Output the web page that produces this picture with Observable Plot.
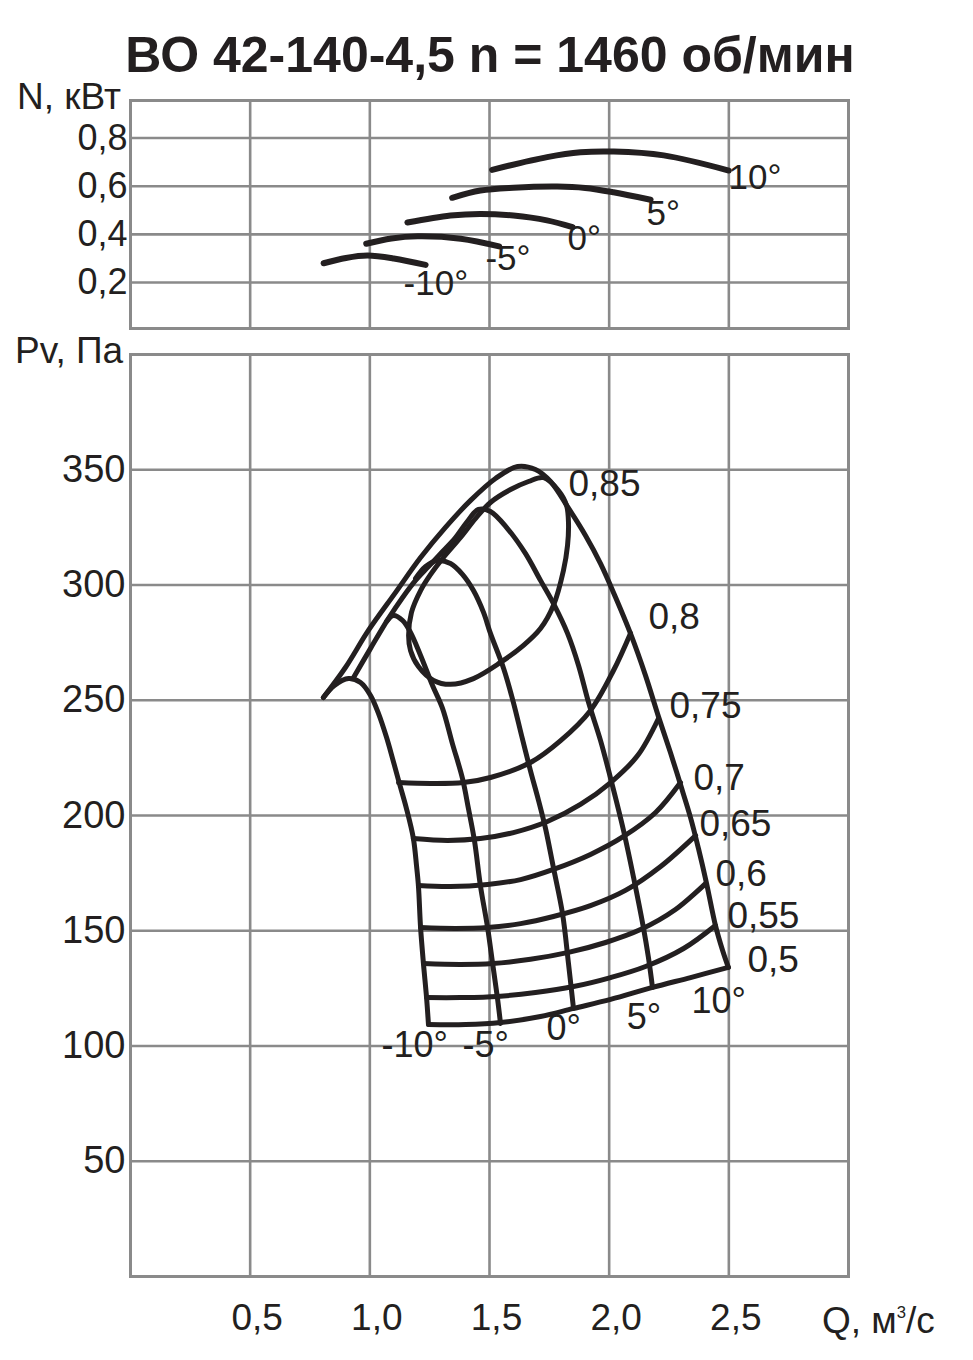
<!DOCTYPE html>
<html><head><meta charset="utf-8">
<script src="https://cdn.jsdelivr.net/npm/d3@7"></script>
<script src="https://cdn.jsdelivr.net/npm/@observablehq/plot@0.6"></script>
<style>
body{margin:0;background:#fff;width:973px;height:1360px;position:relative;overflow:hidden;font-family:"Liberation Sans",Arial,sans-serif;color:#231f20;}
.abs{position:absolute;white-space:nowrap;line-height:1;}
#title{left:0;width:980px;top:30px;text-align:center;font-weight:bold;font-size:50px;}
sup{font-size:0.45em;vertical-align:0.9em;}
</style></head><body>
<div id="title" class="abs">ВО 42-140-4,5 n = 1460 об/мин</div>
<div class="abs" style="left:17px;top:78px;font-size:37px">N, кВт</div>
<div class="abs" style="left:15px;top:332px;font-size:37px">Pv, Па</div>
<div class="abs" style="left:822px;top:1302px;font-size:37px">Q, м<sup>3</sup>/с</div>
<div id="top" class="abs" style="left:0;top:90px"></div>
<div id="bot" class="abs" style="left:0;top:344px"></div>
<script>
// ---- axis ticks ----
const xTicks = [0.5, 1, 1.5, 2, 2.5];
const nTicks = [0.2, 0.4, 0.6, 0.8];
const pTicks = [50, 100, 150, 200, 250, 300, 350];

// ---- power curves N(Q), kW ----
const nQ_m10 = [0.807, 0.90, 0.99, 1.10, 1.233];
const nN_m10 = [0.280, 0.302, 0.312, 0.300, 0.273];
const nQ_m5 = [0.985, 1.09, 1.20, 1.38, 1.54];
const nN_m5 = [0.361, 0.383, 0.392, 0.382, 0.350];
const nQ_0 = [1.157, 1.337, 1.46, 1.60, 1.74, 1.847];
const nN_0 = [0.449, 0.478, 0.485, 0.478, 0.458, 0.430];
const nQ_5 = [1.344, 1.462, 1.60, 1.783, 1.90, 2.018, 2.173];
const nN_5 = [0.552, 0.582, 0.594, 0.599, 0.593, 0.575, 0.544];
const nQ_10 = [1.511, 1.741, 1.88, 2.019, 2.228, 2.50];
const nN_10 = [0.668, 0.721, 0.741, 0.744, 0.728, 0.665];
const nLabels = ["-10°", "-5°", "0°", "5°", "10°"];
const nLabelQ = [1.141, 1.483, 1.826, 2.156, 2.499];
const nLabelN = [0.196, 0.300, 0.383, 0.487, 0.636];

// ---- pressure curves Pv(Q), Pa, per blade angle ----
const pQ_m10 = [0.806,0.852,0.911,0.961,1.003,1.036,1.070,1.095,1.120,1.153,1.182,1.195,1.203,1.212,1.224,1.237,1.245];
const pP_m10 = [251.2,256.4,259.4,257.7,252.1,244.3,233.8,224.7,215.2,203.0,190.0,178.3,169.6,151.4,135.8,121.0,109.3];
const pQ_m5 = [1.070,1.099,1.137,1.170,1.212,1.262,1.304,1.345,1.387,1.412,1.437,1.462,1.492,1.513,1.533,1.546];
const pP_m5 = [284.2,286.8,284.6,279.4,269.4,256.4,246.4,231.2,216.1,203.0,189.2,169.6,151.4,135.8,121.0,109.8];
const pQ_0 = [1.191,1.233,1.283,1.337,1.387,1.433,1.475,1.504,1.559,1.600,1.634,1.671,1.705,1.734,1.767,1.805,1.830,1.851];
const pP_0 = [302.8,308.0,310.6,309.3,304.6,297.6,288.1,279.0,263.8,249.0,234.7,219.5,206.5,194.4,177.4,157.5,135.8,116.3];
const pQ_5 = [0.932,1.003,1.078,1.137,1.191,1.245,1.304,1.358,1.404,1.454,1.504,1.575,1.650,1.713,1.767,1.826,1.872,1.914,1.964,2.006,2.060,2.102,2.143,2.164,2.181];
const pP_5 = [259.9,272.5,285.5,294.6,302.0,308.0,314.5,320.6,327.1,332.8,331.9,324.5,313.7,302.0,292.0,279.0,265.1,249.0,232.5,216.1,193.5,173.1,151.4,138.4,125.4];
const pQ_10 = [0.806,0.898,0.994,1.107,1.212,1.316,1.421,1.525,1.617,1.692,1.755,1.826,1.901,1.964,2.027,2.089,2.152,2.206,2.256,2.298,2.340,2.373,2.407,2.444,2.474,2.498];
const pP_10 = [251.2,264.2,280.3,296.7,311.9,325.0,336.7,346.2,351.4,350.1,344.9,334.0,321.5,309.3,294.6,279.0,260.7,242.9,227.3,213.4,199.1,185.7,170.5,152.3,141.4,134.1];
const angLabels = ["-10°", "-5°", "0°", "5°", "10°"];
const angLabelQ = [1.049, 1.387, 1.738, 2.073, 2.344];
const angLabelP = [100.2, 100.2, 107.6, 112.4, 119.3];

// ---- efficiency lines ----
const eQ_80 = [1.120,1.254,1.391,1.504,1.671,1.797,1.922,2.018,2.089];
const eP_80 = [214.3,213.9,214.3,216.5,223.0,232.5,245.6,262.9,279.0];
const eQ_75 = [1.182,1.325,1.462,1.600,1.742,1.880,2.006,2.119,2.206];
const eP_75 = [190.0,189.2,190.0,192.6,197.4,204.8,214.3,226.0,242.1];
const eQ_70 = [1.203,1.337,1.492,1.630,1.767,1.922,2.060,2.194,2.298];
const eP_70 = [169.6,169.2,170.1,172.2,176.6,183.1,190.9,201.3,214.3];
const eQ_65 = [1.212,1.358,1.492,1.630,1.767,1.922,2.068,2.215,2.361];
const eP_65 = [151.4,151.0,151.4,153.1,156.2,160.9,167.5,177.9,191.3];
const eQ_60 = [1.224,1.379,1.513,1.671,1.830,1.985,2.131,2.277,2.403];
const eP_60 = [135.8,135.4,135.8,137.6,140.6,144.9,150.5,159.2,170.5];
const eQ_55 = [1.237,1.379,1.533,1.692,1.851,2.006,2.152,2.311,2.444];
const eP_55 = [121.0,121.0,121.5,123.2,125.8,129.7,134.5,142.3,152.3];
const eQ_50 = [1.245,1.400,1.546,1.713,1.851,2.006,2.181,2.340,2.498];
const eP_50 = [109.3,109.3,110.2,112.8,116.3,120.2,125.4,129.7,134.1];
const eQ_85 = [1.726,1.788,1.822,1.830,1.826,1.809,1.767,1.713,1.642,1.546,1.433,1.337,1.266,1.203,1.170,1.162,1.174,1.212,1.254,1.304,1.379,1.442,1.504,1.588,1.663];
const eP_85 = [346.6,341.0,334.5,327.1,317.1,306.3,291.1,281.1,273.8,266.4,259.4,256.9,258.6,264.6,271.6,278.1,288.1,297.6,304.6,311.5,320.6,328.9,335.8,341.4,344.9];
const effLabels = ["0,85","0,8","0,75","0,7","0,65","0,6","0,55","0,5"];
const effLabelQ = [1.830,2.164,2.252,2.352,2.377,2.444,2.494,2.578];
const effLabelP = [343.6,285.9,247.3,216.1,196.1,174.4,156.2,137.1];

// ---- build tables ----
const pairs = (q, v, s) => q.map((x, i) => ({q: x, v: v[i], s}));
const labs = (t, q, v) => t.map((s, i) => ({t: s, q: q[i], v: v[i]}));

const nData = [
  ...pairs(nQ_m10, nN_m10, "-10"), ...pairs(nQ_m5, nN_m5, "-5"), ...pairs(nQ_0, nN_0, "0"),
  ...pairs(nQ_5, nN_5, "5"), ...pairs(nQ_10, nN_10, "10")
];
const angData = [
  ...pairs(pQ_m10, pP_m10, "-10"), ...pairs(pQ_m5, pP_m5, "-5"), ...pairs(pQ_0, pP_0, "0"),
  ...pairs(pQ_5, pP_5, "5"), ...pairs(pQ_10, pP_10, "10")
];
const effData = [
  ...pairs(eQ_80, eP_80, "0.8"), ...pairs(eQ_75, eP_75, "0.75"), ...pairs(eQ_70, eP_70, "0.7"),
  ...pairs(eQ_65, eP_65, "0.65"), ...pairs(eQ_60, eP_60, "0.6"), ...pairs(eQ_55, eP_55, "0.55"),
  ...pairs(eQ_50, eP_50, "0.5")
];
const ellData = pairs(eQ_85, eP_85, "0.85");

const GRID = "#8a8a8a", INK = "#231f20";
const FONT = '"Liberation Sans", Arial, sans-serif';
const comma = d => d.toFixed(1).replace(".", ",");

const topPlot = Plot.plot({
  width: 973, height: 248,
  marginLeft: 130, marginRight: 125, marginTop: 10, marginBottom: 10,
  style: {fontFamily: FONT, background: "transparent", overflow: "visible", color: INK},
  x: {domain: [0, 3], axis: null},
  y: {domain: [0.009, 0.956], axis: null},
  marks: [
    Plot.gridX(xTicks, {stroke: GRID, strokeOpacity: 1, strokeWidth: 2.6}),
    Plot.gridY(nTicks, {stroke: GRID, strokeOpacity: 1, strokeWidth: 2.6}),
    Plot.frame({stroke: GRID, strokeWidth: 3}),
    Plot.line(nData, {x: "q", y: "v", z: "s", curve: "catmull-rom", stroke: INK, strokeWidth: 6}),
    Plot.text(labs(nLabels, nLabelQ, nLabelN), {x: "q", y: "v", text: "t", textAnchor: "start", fontSize: 35, fill: INK}),
    Plot.axisY(nTicks, {tickSize: 0, tickPadding: 3, tickFormat: comma, fontSize: 36, label: null, fill: INK})
  ]
});
document.getElementById("top").append(topPlot);

const botPlot = Plot.plot({
  width: 973, height: 1006,
  marginLeft: 130, marginRight: 125, marginTop: 10, marginBottom: 74,
  style: {fontFamily: FONT, background: "transparent", overflow: "visible", color: INK},
  x: {domain: [0, 3]},
  y: {domain: [0, 400]},
  marks: [
    Plot.gridX(xTicks, {stroke: GRID, strokeOpacity: 1, strokeWidth: 2.6}),
    Plot.gridY(pTicks, {stroke: GRID, strokeOpacity: 1, strokeWidth: 2.6}),
    Plot.frame({stroke: GRID, strokeWidth: 3}),
    Plot.line(effData, {x: "q", y: "v", z: "s", curve: "catmull-rom", stroke: INK, strokeWidth: 5}),
    Plot.line(ellData, {x: "q", y: "v", curve: "catmull-rom-closed", stroke: INK, strokeWidth: 5}),
    Plot.line(angData, {x: "q", y: "v", z: "s", curve: "catmull-rom", stroke: INK, strokeWidth: 5}),
    Plot.text(labs(effLabels, effLabelQ, effLabelP), {x: "q", y: "v", text: "t", textAnchor: "start", fontSize: 37, fill: INK}),
    Plot.text(labs(angLabels, angLabelQ, angLabelP), {x: "q", y: "v", text: "t", textAnchor: "start", fontSize: 36, fill: INK}),
    Plot.axisY(pTicks, {tickSize: 0, tickPadding: 5, fontSize: 38, label: null, fill: INK}),
    Plot.axisX(xTicks, {tickSize: 0, tickPadding: 27, dx: 7, tickFormat: comma, fontSize: 37, label: null, fill: INK})
  ]
});
document.getElementById("bot").append(botPlot);
</script>
</body></html>
